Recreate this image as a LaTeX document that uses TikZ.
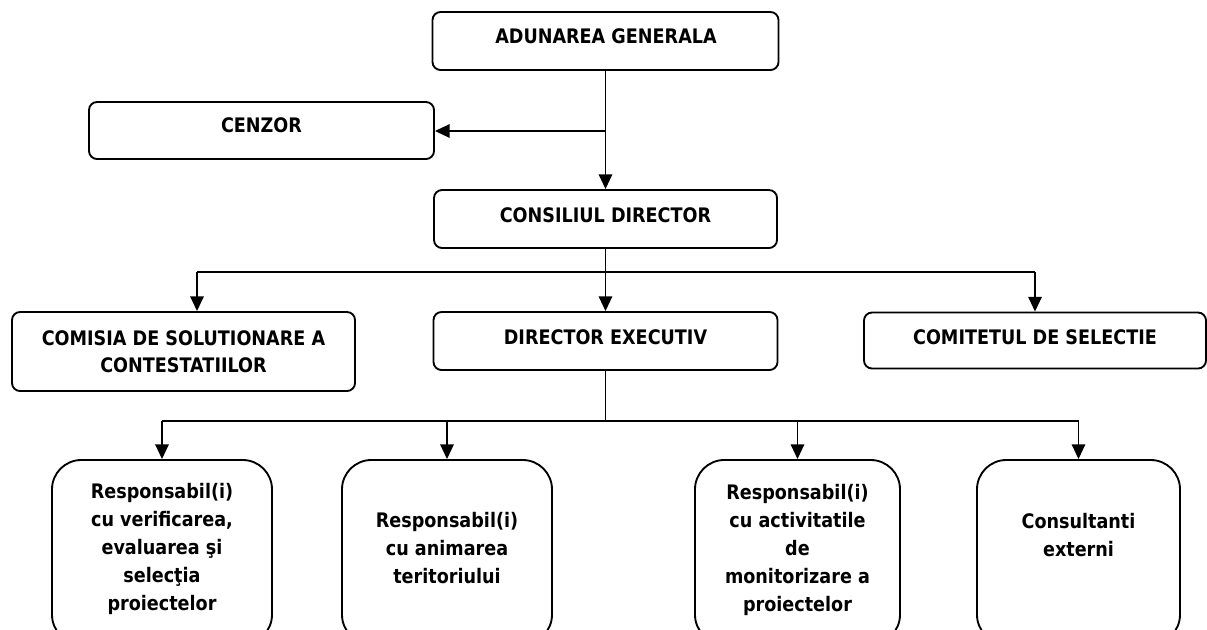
\documentclass[tikz,border=0pt]{standalone}
\usepackage{fontspec}
\setmainfont{DejaVu Sans}[FakeStretch=0.88]
\usetikzlibrary{arrows.meta,calc}
\tikzset{
  box/.style={draw, line width=1.4pt, rounded corners=6pt, inner sep=0pt},
  bigbox/.style={draw, line width=1.4pt, rounded corners=22pt, inner sep=0pt},
  lbl/.style={font=\bfseries\fontsize{15}{21}\selectfont, align=center, inner sep=0pt},
  conn/.style={line width=1.4pt},
  arr/.style={line width=1.4pt, -{Triangle[length=11pt,width=10pt]}}
}
\begin{document}
\begin{tikzpicture}[x=0.75pt,y=-0.75pt]
\useasboundingbox (0,0) rectangle (1207,629);
\clip (0,0) rectangle (1207,629);
% boxes
\node[box, minimum width=259.5pt, minimum height=43.5pt] (ad) at (605.5,41) {};
\node[box, minimum width=258.75pt, minimum height=42.75pt] (cz) at (261.5,130.5) {};
\node[box, minimum width=257.25pt, minimum height=43.5pt] (cd) at (605.5,219) {};
\node[box, minimum width=258pt, minimum height=43.5pt] (de) at (605.5,341) {};
\node[box, minimum width=257.25pt, minimum height=59.25pt] (cm) at (183.5,351.5) {};
\node[box, minimum width=256.5pt, minimum height=42pt] (ct) at (1035,340.5) {};
\node[bigbox, minimum width=165pt, minimum height=138pt] (b1) at (162,552) {};
\node[bigbox, minimum width=157.5pt, minimum height=138pt] (b2) at (447,552) {};
\node[bigbox, minimum width=153.75pt, minimum height=138pt] (b3) at (797.5,552) {};
\node[bigbox, minimum width=152.25pt, minimum height=138pt] (b4) at (1078.5,552) {};
% texts
\node[lbl] (tad) at (606,36) {ADUNAREA GENERALA};
\node[lbl] (tcz) at (261.5,125) {CENZOR};
\node[lbl] (tcd) at (605.5,215) {CONSILIUL DIRECTOR};
\node[lbl] (tde) at (605.5,337) {DIRECTOR EXECUTIV};
\node[lbl, font=\bfseries\fontsize{15}{20}\selectfont] (tcm) at (183.5,352) {COMISIA DE SOLUTIONARE A\\CONTESTATIILOR};
\node[lbl] (tct) at (1035,337) {COMITETUL DE SELECTIE};
\node[lbl] (tb1) at (162,549) {Responsabil(i)\\cu verificarea,\\evaluarea şi\\selecţia\\proiectelor};
\node[lbl] (tb2) at (447,548) {Responsabil(i)\\cu animarea\\teritoriului};
\node[lbl] (tb3) at (797.5,550) {Responsabil(i)\\cu activitatile\\de\\monitorizare a\\proiectelor};
\node[lbl] (tb4) at (1078.5,535) {Consultanti\\externi};
% connectors
\coordinate (j1) at (605.5,131);
\coordinate (h1) at (605.5,272);
\coordinate (h2) at (605.5,421);
\draw[arr] (ad.south) -- (cd.north);
\draw[arr] (j1) -- (j1 -| cz.east);
\draw[arr] (cd.south) -- (de.north);
\draw[conn] ($(h1 -| cm.north)+(13.5,0)$) -- (h1 -| ct.north);
\draw[arr] ($(h1 -| cm.north)+(13.5,0)$) -- ($(cm.north)+(13.5,0)$);
\draw[arr] (h1 -| ct.north) -- (ct.north);
\draw[conn] (de.south) -- (h2);
\draw[conn] (h2 -| b1.north) -- (h2 -| b4.north);
\draw[arr] (h2 -| b1.north) -- (b1.north);
\draw[arr] (h2 -| b2.north) -- (b2.north);
\draw[arr] (h2 -| b3.north) -- (b3.north);
\draw[arr] (h2 -| b4.north) -- (b4.north);
\end{tikzpicture}
\end{document}
